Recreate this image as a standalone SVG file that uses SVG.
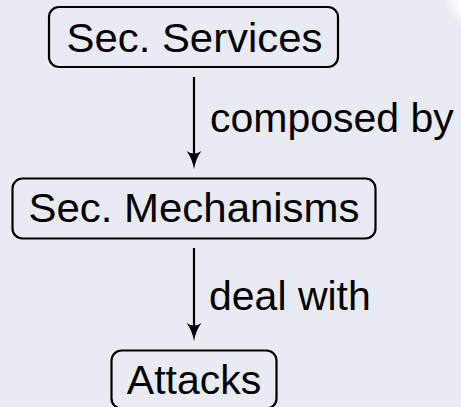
<svg xmlns="http://www.w3.org/2000/svg" width="461" height="407" viewBox="0 0 461 407">
<defs>
<radialGradient id="glow" cx="0.5" cy="0.5" r="0.5">
<stop offset="0" stop-color="#ffffff" stop-opacity="1"/>
<stop offset="0.6" stop-color="#ffffff" stop-opacity="0.9"/>
<stop offset="1" stop-color="#ffffff" stop-opacity="0"/>
</radialGradient>
<style>
.box{fill:none;stroke:#000;stroke-width:2.2}
.lbl{font-family:"Liberation Sans",Arial,Helvetica,sans-serif;font-size:41px;fill:#000}
.edge{stroke:#000;stroke-width:2.2;fill:none}
.head{fill:#000}
</style>
</defs>
<rect width="461" height="407" fill="#e9ebf2"/>
<circle cx="478" cy="-2" r="34" fill="url(#glow)"/>
<g id="connectors">
<line class="edge" x1="194" y1="77" x2="194" y2="160"/>
<path class="head" d="M194,169 Q192,158 186.5,151 Q194,156 201.5,151 Q196,158 194,169 Z"/>
<text class="lbl" x="210" y="132">composed by</text>
<line class="edge" x1="194" y1="248" x2="194" y2="332"/>
<path class="head" d="M194,341 Q192,330 186.5,323 Q194,328 201.5,323 Q196,330 194,341 Z"/>
<text class="lbl" x="209" y="310">deal with</text>
</g>
<g id="node-services">
<rect class="box" x="49" y="7" width="289" height="60" rx="10"/>
<text class="lbl" x="194.5" y="52" text-anchor="middle" textLength="256" lengthAdjust="spacingAndGlyphs">Sec. Services</text>
</g>
<g id="node-mechanisms">
<rect class="box" x="12.5" y="178.5" width="363" height="60" rx="10"/>
<text class="lbl" x="194" y="222" text-anchor="middle" textLength="331" lengthAdjust="spacingAndGlyphs">Sec. Mechanisms</text>
</g>
<g id="node-attacks">
<rect class="box" x="111.5" y="350.5" width="165" height="58" rx="10"/>
<text class="lbl" x="194" y="394" text-anchor="middle">Attacks</text>
</g>
</svg>
